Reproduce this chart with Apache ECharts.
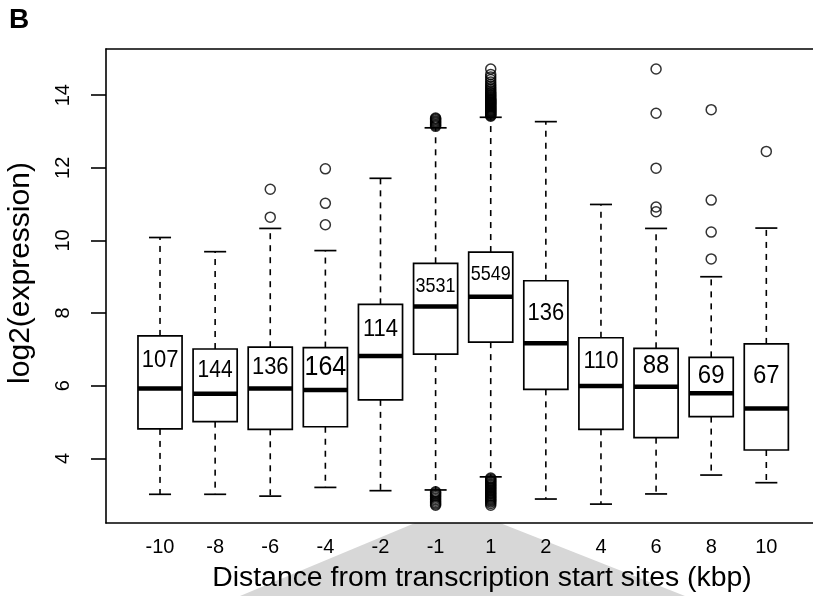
<!DOCTYPE html>
<html><head><meta charset="utf-8">
<script src="https://cdn.jsdelivr.net/npm/echarts@6/dist/echarts.min.js"></script>
<style>html,body{margin:0;padding:0;background:#fff}#c{width:813px;height:596px}</style>
</head><body><div id="c"></div>
<script>
// ---- data ----
const categories  = ['-10','-8','-6','-4','-2','-1','1','2','4','6','8','10'];
const whiskerLow  = [3.01, 3.01, 2.96, 3.20, 3.11, 3.13, 3.49, 2.88, 2.74, 3.02, 3.54, 3.33];
const q1          = [4.81, 5.01, 4.80, 4.87, 5.61, 6.87, 7.20, 5.90, 4.80, 4.57, 5.15, 4.23];
const median      = [5.92, 5.78, 5.92, 5.88, 6.82, 8.18, 8.45, 7.17, 5.99, 5.97, 5.79, 5.37];
const q3          = [7.37, 7.01, 7.06, 7.05, 8.24, 9.37, 9.68, 8.89, 7.32, 7.03, 6.78, 7.15];
const whiskerHigh = [10.08, 9.69, 10.33, 9.72, 11.71, 13.10, 13.39, 13.27, 10.99, 10.33, 9.00, 10.34];
const counts      = ['107','144','136','164','114','3531','5549','136','110','88','69','67'];
const countLabelY = [6.69, 6.41, 6.51, 6.51, 7.55, 8.73, 9.05, 7.99, 6.66, 6.54, 6.27, 6.27];
const outliers = [
  [],
  [],
  [10.64, 11.41],
  [10.43, 11.02, 11.97],
  [],
  [13.14, 13.17, 13.20, 13.23, 13.26, 13.29, 13.32, 13.35, 13.37,
   3.08, 3.05, 3.02, 2.98, 2.94, 2.90, 2.86, 2.82, 2.78, 2.74, 2.71],
  [13.42, 13.44, 13.46, 13.48, 13.50, 13.52, 13.54, 13.56, 13.58, 13.60, 13.62, 13.64, 13.66,
   13.68, 13.70, 13.72, 13.74, 13.76, 13.78, 13.80, 13.82, 13.84, 13.86, 13.88, 13.90, 13.93,
   13.96, 13.99, 14.02, 14.05, 14.08, 14.12, 14.16, 14.20, 14.25, 14.30, 14.36, 14.43,
   14.50, 14.57, 14.72,
   3.46, 3.43, 3.40, 3.37, 3.34, 3.31, 3.28, 3.25, 3.22, 3.19, 3.16, 3.13, 3.10, 3.07, 3.04,
   3.01, 2.98, 2.95, 2.92, 2.89, 2.86, 2.83, 2.80, 2.76, 2.71],
  [],
  [],
  [10.79, 10.92, 11.99, 13.50, 14.72],
  [9.49, 10.23, 11.11, 13.60],
  [12.45]
];
const yTicks = [4, 6, 8, 10, 12, 14];
const xTickPositions = [1,2,3,4,5,6,7,8,9,10,11,12];

// ---- styles ----
const FONT = "'Liberation Sans', Arial, Helvetica, sans-serif";
const countFontSize = [22, 21, 22, 25, 22, 18, 18, 22, 22, 24, 24, 24];

const boxData = categories.map((c, i) => [i + 1, whiskerLow[i], q1[i], median[i], q3[i], whiskerHigh[i]]);
const outlierData = [];
outliers.forEach((arr, i) => arr.forEach(v => outlierData.push([i + 1, v])));
const labelData = categories.map((c, i) => [i + 1, countLabelY[i], i]);

function renderBox(params, api) {
  const x = api.value(0);
  const lo = api.coord([x, api.value(1)]);
  const a = api.coord([x, api.value(2)]);
  const m = api.coord([x, api.value(3)]);
  const b = api.coord([x, api.value(4)]);
  const hi = api.coord([x, api.value(5)]);
  const half = api.size([0.4, 0])[0];
  const cap = half / 2;
  const cx = m[0];
  const black = '#000';
  return {
    type: 'group',
    children: [
      { type: 'line', shape: { x1: cx, y1: b[1], x2: cx, y2: hi[1] },
        style: { stroke: black, lineWidth: 1.6, lineDash: [6, 6] } },
      { type: 'line', shape: { x1: cx, y1: a[1], x2: cx, y2: lo[1] },
        style: { stroke: black, lineWidth: 1.6, lineDash: [6, 6] } },
      { type: 'line', shape: { x1: cx - cap, y1: hi[1], x2: cx + cap, y2: hi[1] },
        style: { stroke: black, lineWidth: 1.7 } },
      { type: 'line', shape: { x1: cx - cap, y1: lo[1], x2: cx + cap, y2: lo[1] },
        style: { stroke: black, lineWidth: 1.7 } },
      { type: 'rect', shape: { x: cx - half, y: b[1], width: 2 * half, height: a[1] - b[1] },
        style: { fill: '#fff', stroke: black, lineWidth: 1.7 } },
      { type: 'line', shape: { x1: cx - half, y1: m[1], x2: cx + half, y2: m[1] },
        style: { stroke: black, lineWidth: 4.5 } }
    ]
  };
}

function renderLabel(params, api) {
  const p = api.coord([api.value(0), api.value(1)]);
  const i = api.value(2);
  return {
    type: 'text', x: p[0], y: p[1], scaleY: 1.1,
    style: { text: counts[i], fill: '#000', font: countFontSize[i] + 'px ' + FONT,
             align: 'center', verticalAlign: 'middle' }
  };
}

const axisLineStyle = { show: true, lineStyle: { color: '#000', width: 1.6 } };
const chart = echarts.init(document.getElementById('c'), null, { renderer: 'canvas' });
chart.setOption({
  animation: false,
  backgroundColor: '#fff',
  textStyle: { fontFamily: FONT },
  grid: { left: 106, top: 49, right: 0, height: 474, show: false },
  xAxis: [{
    type: 'value', min: 0.02, max: 12.847, position: 'bottom',
    axisLine: axisLineStyle, axisTick: { show: false }, splitLine: { show: false },
    axisLabel: { customValues: xTickPositions, formatter: v => categories[Math.round(v) - 1] || '',
                 fontSize: 20, color: '#000', margin: 14, fontFamily: FONT }
  }, {
    type: 'value', min: 0.02, max: 12.847, position: 'top',
    axisLine: axisLineStyle, axisTick: { show: false }, splitLine: { show: false },
    axisLabel: { show: false }
  }],
  yAxis: {
    type: 'value', min: 2.22, max: 15.27,
    axisLine: axisLineStyle, splitLine: { show: false },
    axisTick: { show: true, length: 15, customValues: yTicks, lineStyle: { color: '#000', width: 1.6 } },
    axisLabel: { customValues: yTicks, rotate: 90, fontSize: 20, color: '#000', margin: 33, fontFamily: FONT }
  },
  graphic: [
    { type: 'polygon', z: -10, shape: { points: [[240, 596], [415, 523], [500, 523], [685, 596]] },
      style: { fill: '#d7d7d7' } },
    { type: 'text', x: 9, y: 6, style: { text: 'B', font: 'bold 28px ' + FONT, fill: '#000' } },
    { type: 'text', x: 482, y: 578, style: { text: 'Distance from transcription start sites (kbp)',
      font: '28.4px ' + FONT, fill: '#000', align: 'center', verticalAlign: 'middle' } },
    { type: 'text', x: 21, y: 273, rotation: Math.PI / 2, style: { text: 'log2(expression)',
      font: '30px ' + FONT, fill: '#000', align: 'center', verticalAlign: 'middle' } }
  ],
  series: [
    { type: 'custom', renderItem: renderBox, data: boxData, encode: { x: 0, y: [1, 2, 3, 4, 5] }, z: 2 },
    { type: 'scatter', data: outlierData, symbol: 'circle', symbolSize: 10, z: 3,
      itemStyle: { color: 'transparent', borderColor: '#000', borderWidth: 1.5 } },
    { type: 'custom', renderItem: renderLabel, data: labelData, encode: { x: 0, y: 1 }, z: 4 }
  ]
});
</script></body></html>
